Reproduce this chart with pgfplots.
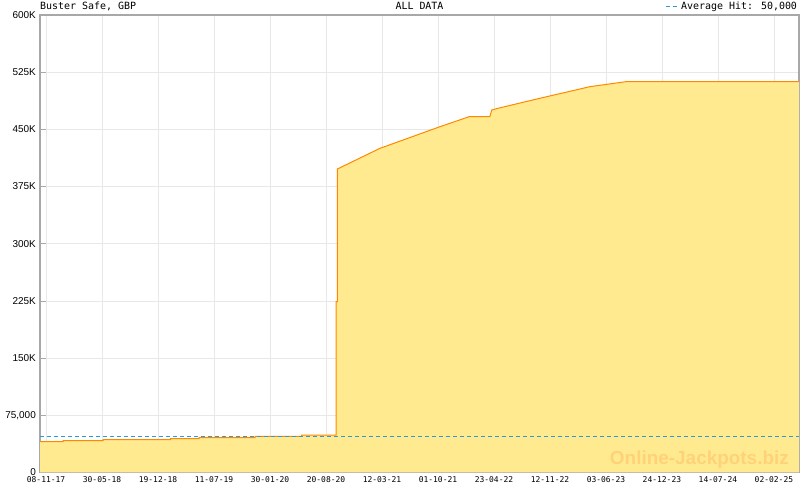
\documentclass[border=0pt]{standalone}
\usepackage{fontspec}
\usepackage{pgfplots}
\pgfplotsset{compat=1.18}
\usepackage{pgfplotstable}
\newfontfamily\monof{DejaVu Sans Mono}
\newfontfamily\sansf{Liberation Sans}
\definecolor{fillY}{HTML}{FFEA8F}
\definecolor{lineO}{HTML}{FF8800}
\definecolor{avgB}{HTML}{2A9BD8}
\definecolor{gridG}{HTML}{E8E8E8}
\definecolor{axG}{HTML}{A8A8A8}
\definecolor{wmO}{HTML}{FFD27A}
\pgfplotsset{layers/mylayers/.define layer set={axis background,axis grid,main,axis ticks,axis lines,axis tick labels,axis descriptions,axis foreground}{}}

% x = days since 08-11-2017, y = jackpot in thousands GBP
\pgfplotstableread{
x y
-22 40.6
62 40.6
62 41.9
207 41.9
207 43.2
452 43.2
452 44.5
555 44.5
555 45.8
758 45.8
758 47.2
927 47.2
927 49.1
1052 49.1
1052 224
1056 224
1056 398
1211 425.2
1295 436.1
1428 453.5
1534 466.6
1609 466.6
1616 475.4
1638 477.6
1791 490.8
1972 506.0
2102 512.5
2730 512.5
}\jackpot

\begin{document}
\begin{tikzpicture}
\begin{axis}[
 set layers=mylayers,
 scale only axis, width=759bp, height=457.5bp,
 xmin=-22, xmax=2730, ymin=0, ymax=600,
 xtick={0,203,406,609,812,1015,1218,1421,1624,1827,2030,2233,2436,2639},
 xticklabels={08-11-17,30-05-18,19-12-18,11-07-19,30-01-20,20-08-20,12-03-21,01-10-21,23-04-22,12-11-22,03-06-23,24-12-23,14-07-24,02-02-25},
 minor x tick num=6,
 ytick={0,75,150,225,300,375,450,525,600},
 yticklabels={0,{75,000},150K,225K,300K,375K,450K,525K,600K},
 tick pos=left,
 tick align=inside,
 major tick length=6bp, minor tick length=3.5bp,
 tick style={draw=axG, line width=0.8bp},
 xmajorgrids, ymajorgrids,
 grid style={draw=gridG, line width=0.8bp},
 axis line style={draw=axG, line width=1.2bp},
 xticklabel style={font=\monof\fontsize{8}{9}\selectfont, inner sep=0pt, yshift=-4bp},
 yticklabel style={font=\sansf\fontsize{10}{11}\selectfont, inner sep=0pt, xshift=-4bp},
 legend style={at={(rel axis cs:1,1)}, anchor=south east, draw=none, fill=none,
   font=\monof\fontsize{10}{11}\selectfont, inner sep=0pt, outer sep=0pt, yshift=2bp,
   legend cell align=left},
 legend image code/.code={\draw[#1] (0bp,0bp) -- (13bp,0bp);},
]
\addplot[fill=fillY, draw=none, forget plot] table[x=x,y=y]{\jackpot} \closedcycle;
\addplot[lineO, line width=1bp, forget plot] table[x=x,y=y]{\jackpot};
\addplot[avgB, line width=1bp, dash pattern=on 4bp off 3bp] coordinates {(-22,47.5) (2730,47.5)};
\addlegendentry{Average Hit: 50,000}
\coordinate (bl) at (rel axis cs:0,0);
\coordinate (tr) at (rel axis cs:1,1);
\coordinate (tl) at (rel axis cs:0,1);
\coordinate (tc) at (rel axis cs:0.5,1);
\coordinate (br) at (rel axis cs:1,0);
\end{axis}
\node[anchor=base west, inner sep=0pt, font=\monof\fontsize{10}{11}\selectfont] at ([yshift=5bp]tl) {Buster Safe, GBP};
\node[anchor=base, inner sep=0pt, font=\monof\fontsize{10}{11}\selectfont] at ([yshift=5bp]tc) {ALL DATA};
\node[anchor=base east, inner sep=0pt, text=wmO, font=\sansf\bfseries\fontsize{19}{21}\selectfont] at ([shift={(-10bp,7.5bp)}]br) {Online-Jackpots.biz};
\pgfresetboundingbox
\path ([shift={(-40bp,-17.5bp)}]bl) rectangle ([shift={(1bp,15bp)}]tr);
\end{tikzpicture}
\end{document}
